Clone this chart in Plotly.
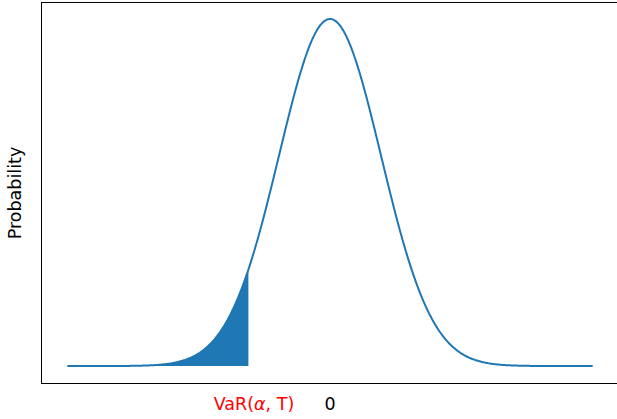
import numpy as np
import plotly.graph_objects as go

# Distribution parameters (standard units) and the VaR cut-off
mu = 0.0
sigma = 1.0
x_min, x_max = -5.15, 5.15
var_level = -1.6
n_points = 600

tick_vals = [var_level, 0]
tick_labels = ["<span style='color:#ff0000'>&nbsp;&nbsp;VaR(<i>α</i>, T)</span>", "0"]

x = np.linspace(x_min, x_max, n_points)
pdf = np.exp(-0.5 * ((x - mu) / sigma) ** 2) / (sigma * np.sqrt(2 * np.pi))

# Left tail up to the VaR level
x_tail = np.append(x[x <= var_level], var_level)
pdf_tail = np.exp(-0.5 * ((x_tail - mu) / sigma) ** 2) / (sigma * np.sqrt(2 * np.pi))

blue = "#1f77b4"

fig = go.Figure()
fig.add_trace(go.Scatter(
    x=x_tail, y=pdf_tail, mode="lines", fill="tozeroy",
    fillcolor=blue, line=dict(color=blue, width=0, simplify=False),
    hoverinfo="skip", showlegend=False,
))
fig.add_trace(go.Scatter(
    x=x, y=pdf, mode="lines",
    line=dict(color=blue, width=2, simplify=False),
    showlegend=False,
))

peak = 1 / (sigma * np.sqrt(2 * np.pi))
fig.update_layout(
    width=617, height=419,
    margin=dict(l=42, r=0, t=3, b=36),
    paper_bgcolor="white", plot_bgcolor="white",
    font=dict(family="DejaVu Sans", size=17.5, color="#000000"),
    xaxis=dict(
        range=[-5.647, 5.627], showgrid=False, zeroline=False,
        showline=True, mirror=True, linecolor="#000000", linewidth=1,
        tickmode="array", tickvals=tick_vals, ticktext=tick_labels,
        ticks="outside", ticklen=5, tickcolor="rgba(0,0,0,0)",
        tickfont=dict(size=17.5),
    ),
    yaxis=dict(
        range=[-0.0195 * peak / 0.3989, peak + 0.0184], showgrid=False,
        zeroline=False, showline=True, linecolor="#000000", linewidth=1,
        showticklabels=False, ticks="",
        title=dict(text="Probability", font=dict(size=17.5), standoff=14),
    ),
)

fig.write_html("out.html")
